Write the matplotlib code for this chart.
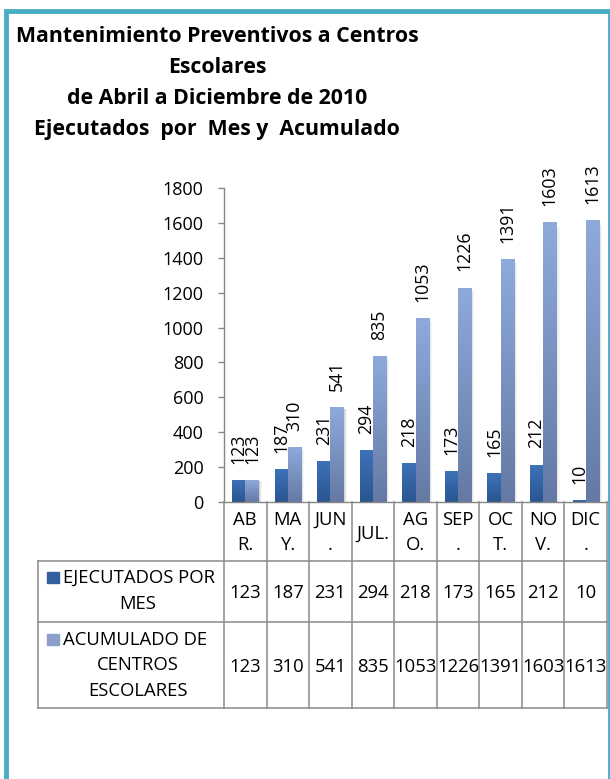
import numpy as np
import matplotlib
matplotlib.use("Agg")
import matplotlib.pyplot as plt
from matplotlib.lines import Line2D
from matplotlib.patches import Rectangle
from matplotlib.colors import LinearSegmentedColormap
import matplotlib.transforms as mtransforms

# ---------------- data ----------------
months = ["ABR.", "MAY.", "JUN.", "JUL.", "AGO.", "SEP.", "OCT.", "NOV.", "DIC."]
month_labels = ["AB\nR.", "MA\nY.", "JUN\n.", "JUL.", "AG\nO.", "SEP\n.", "OC\nT.", "NO\nV.", "DIC\n."]
ejecutados = [123, 187, 231, 294, 218, 173, 165, 212, 10]
acumulado = [123, 310, 541, 835, 1053, 1226, 1391, 1603, 1613]
series_names = ["EJECUTADOS POR\nMES", "ACUMULADO DE\nCENTROS\nESCOLARES"]
title_lines = ["Mantenimiento Preventivos a Centros", "Escolares",
               "de Abril a Diciembre de 2010", "Ejecutados  por  Mes y  Acumulado"]
yticks = [0, 200, 400, 600, 800, 1000, 1200, 1400, 1600, 1800]

# ---------------- style ----------------
FONT = "Open Sans"
plt.rcParams["font.family"] = [FONT, "DejaVu Sans"]
W, H = 610, 779
fig = plt.figure(figsize=(W / 100, H / 100), dpi=100)
fig.patch.set_facecolor("white")


def fx(x):
    return x / W


def fy(y):
    return 1 - y / H


GRID = "#8A8A8A"
AXIS = "#868686"
dark_cmap = LinearSegmentedColormap.from_list("dark", ["#2A5590", "#3D72B8"])
light_cmap = LinearSegmentedColormap.from_list("light", ["#6479A4", "#8EAADB"])

# outer frame
fig.patches.append(Rectangle((fx(6), -0.05), fx(609.5) - fx(6), fy(10.5) + 0.05,
                             fill=False, ec="#4BACC6", lw=3.5,
                             transform=fig.transFigure, clip_on=False))

# title
baselines = [41.5, 73, 103.5, 135]
for line, b in zip(title_lines, baselines):
    fig.text(fx(217), fy(b), line, ha="center", va="baseline",
             fontsize=15.3, fontweight="bold", color="black")

# axes
ax = fig.add_axes([fx(224), fy(502), fx(607) - fx(224), fy(188) - fy(502)])
ax.set_facecolor("none")
x = np.arange(len(months))
bw = 0.31
b1 = ax.bar(x - bw / 2, ejecutados, bw, color="#3566A8", zorder=1)
b2 = ax.bar(x + bw / 2, acumulado, bw, color="#7A94C4", zorder=1)
grad = np.linspace(0, 1, 256).reshape(-1, 1)
for bars, cmap, vals in ((b1, dark_cmap, ejecutados), (b2, light_cmap, acumulado)):
    for p in bars:
        x0, w, h = p.get_x(), p.get_width(), p.get_height()
        # soft shadow to the right
        for k, a in ((0.025, 0.18), (0.05, 0.12), (0.075, 0.07)):
            ax.add_patch(Rectangle((x0 + k, 0), w, h * 0.985, color="#7F7F7F",
                                   alpha=a, lw=0, zorder=1.5))
        ax.imshow(grad, extent=[x0, x0 + w, 0, h], origin="lower", cmap=cmap,
                  aspect="auto", zorder=2, interpolation="bilinear")
        p.set_facecolor("none")
    for p, v in zip(bars, vals):
        ax.annotate(str(v), (p.get_x() + p.get_width() / 2, v), xytext=(0, 12.0),
                    textcoords="offset points", rotation=90, ha="center", va="bottom",
                    fontsize=12.8, annotation_clip=False, zorder=3)

ax.set_xlim(-0.5, len(months) - 0.5)
ax.set_ylim(0, 1800)
ax.set_yticks(yticks)
ax.set_xticks([])
for s in ("top", "right"):
    ax.spines[s].set_visible(False)
for s in ("left", "bottom"):
    ax.spines[s].set_color(AXIS)
    ax.spines[s].set_linewidth(1.0)
    ax.spines[s].set_zorder(4)
ax.tick_params(axis="y", direction="out", length=4.6, width=1.0, color=AXIS,
               labelsize=13, pad=10)

# data table
trans = mtransforms.blended_transform_factory(ax.transData, fig.transFigure)
for k in range(len(months) + 1):
    fig.add_artist(Line2D([k - 0.5, k - 0.5], [fy(502), fy(708)], color=GRID, lw=1.1,
                          transform=trans))
for yy in (561, 622, 708):
    fig.add_artist(Line2D([fx(38), fx(607)], [fy(yy), fy(yy)], color=GRID, lw=1.1,
                          transform=fig.transFigure))
fig.add_artist(Line2D([fx(38), fx(38)], [fy(561), fy(708)], color=GRID, lw=1.1,
                      transform=fig.transFigure))

TS = 13.3


def ttext(i, yb, s):
    t = fig.text(0, 0, s, transform=trans, fontsize=TS, ha="center", va="baseline")
    t.set_position((i, fy(yb)))
    return t


for i, lab in enumerate(month_labels):
    parts = lab.split("\n")
    if len(parts) == 1:
        ttext(i, 539, parts[0])
    else:
        for part, b in zip(parts, (525, 550)):
            ttext(i, b, part)
    ttext(i, 598, str(ejecutados[i]))
    ttext(i, 671.5, str(acumulado[i]))

# row headers with legend keys
row_specs = [(series_names[0], "#33619F", [583, 609]),
             (series_names[1], "#8AA0CB", [645, 670, 695.5])]
for name, col, bls in row_specs:
    lines = name.split("\n")
    fig.patches.append(Rectangle((fx(47), fy(bls[0])), fx(12), 11 / H, color=col,
                                 transform=fig.transFigure))
    fig.text(fx(63), fy(bls[0]), lines[0], fontsize=TS, ha="left", va="baseline")
    for ln, b in zip(lines[1:], bls[1:]):
        fig.text(fx(138), fy(b), ln, fontsize=TS, ha="center", va="baseline")

fig.savefig("out.png", dpi=100, facecolor="white")
